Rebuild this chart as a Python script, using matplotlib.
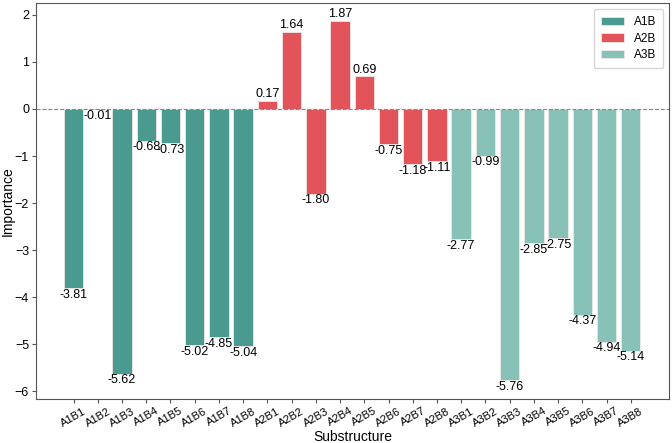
import matplotlib
matplotlib.use("Agg")
import matplotlib.pyplot as plt
import numpy as np

plt.rcParams['font.family']=['Liberation Sans','DejaVu Sans']

a1b_labels=["A1B1","A1B2","A1B3","A1B4","A1B5","A1B6","A1B7","A1B8"]
a1b_values=[-3.81,-0.01,-5.62,-0.68,-0.73,-5.02,-4.85,-5.04]
a2b_labels=["A2B1","A2B2","A2B3","A2B4","A2B5","A2B6","A2B7","A2B8"]
a2b_values=[0.17,1.64,-1.80,1.87,0.69,-0.75,-1.18,-1.11]
a3b_labels=["A3B1","A3B2","A3B3","A3B4","A3B5","A3B6","A3B7","A3B8"]
a3b_values=[-2.77,-0.99,-5.76,-2.85,-2.75,-4.37,-4.94,-5.14]

groups=[("A1B",a1b_labels,a1b_values,"#4a9a90"),
        ("A2B",a2b_labels,a2b_values,"#e25459"),
        ("A3B",a3b_labels,a3b_values,"#87c1b8")]

fig=plt.figure(figsize=(6.72,4.43),dpi=100)
ax=fig.add_axes([0.0536,0.0993,0.942,0.894])

all_labels=[]
pos=0
for name,labels,values,color in groups:
    xs=np.arange(pos,pos+len(values))
    ax.bar(xs,values,width=0.8,color=color,edgecolor="#f0e8e8",linewidth=0.6,label=name)
    for x,v in zip(xs,values):
        if v>=0:
            ax.text(x,v+0.01,"%.2f" % v,ha="center",va="bottom",fontsize=9)
        else:
            ax.text(x,v-0.01,"%.2f" % v,ha="center",va="top",fontsize=9)
    all_labels+=labels
    pos+=len(values)

ax.axhline(0,color="#888888",linestyle="--",linewidth=0.8)
ax.set_xticks(np.arange(len(all_labels)))
ax.set_xticklabels(all_labels,rotation=30,fontsize=8)
ax.set_xlim(-1.55,len(all_labels)+0.58)
ax.set_ylim(-6.16,2.25)
ax.set_yticks([-6,-5,-4,-3,-2,-1,0,1,2])
ax.tick_params(axis="y",labelsize=9)
ax.tick_params(axis="both",length=3,pad=2,color="#555555")
ax.set_xlabel("Substructure",fontsize=10,labelpad=1)
ax.set_ylabel("Importance",fontsize=10)
ax.yaxis.set_label_coords(-0.033,0.5)
for s in ax.spines.values():
    s.set_color("#555555")
ax.legend(loc="upper right",fontsize=8.5,handlelength=2.0,borderpad=0.6,labelspacing=0.4)

fig.savefig("out.png",dpi=100)
